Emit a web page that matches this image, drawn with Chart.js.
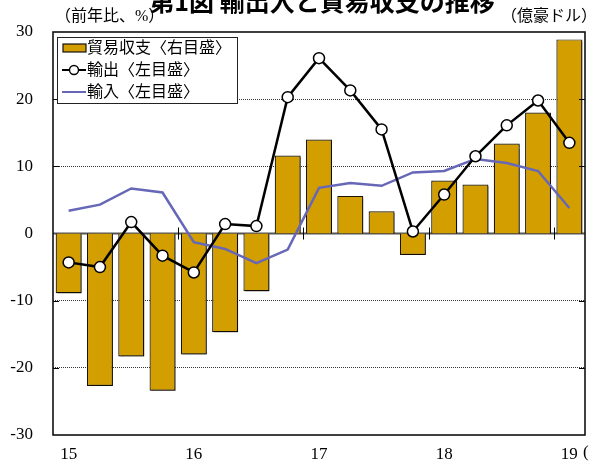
<!DOCTYPE html>
<html><head><meta charset="utf-8">
<script src="https://cdn.jsdelivr.net/npm/chart.js@4.4.1/dist/chart.umd.min.js"></script>
<style>html,body{margin:0;padding:0;background:#fff;}canvas{display:block;}</style>
</head><body>
<canvas id="c" width="592" height="461"></canvas>
<script>
const quarters = ['2015Q1','2015Q2','2015Q3','2015Q4','2016Q1','2016Q2','2016Q3','2016Q4','2017Q1','2017Q2','2017Q3','2017Q4','2018Q1','2018Q2','2018Q3','2018Q4','2019Q1'];
const xTickLabels = ['15','','','','16','','','','17','','','','18','','','','19'];
const tradeBalance = [-8.9,-22.7,-18.3,-23.4,-18.0,-14.7,-8.6,11.6,14.0,5.6,3.3,-3.2,7.9,7.3,13.4,18.0,28.9];
const exportsYoY = [-4.3,-5.0,1.7,-3.3,-5.8,1.4,1.1,20.3,26.1,21.3,15.5,0.3,5.8,11.5,16.1,19.8,13.5];
const importsYoY = [3.4,4.3,6.7,6.1,-1.3,-2.3,-4.4,-2.4,6.8,7.5,7.1,9.1,9.3,11.1,10.5,9.3,3.8];
const seriesNames = ['貿易収支〈右目盛〉','輸出〈左目盛〉','輸入〈左目盛〉'];
const yTicks = [-30,-20,-10,0,10,20,30];
const titleText = '第1図 輸出入と貿易収支の推移';
const leftUnit = '（前年比、%）';
const rightUnit = '（億豪ドル）';

const GOLD = '#D39E00', BLUE = '#6767B8';
const SERIF = '"Times New Roman","Liberation Serif",Tinos,"DejaVu Serif",serif';
const JP = '"Times New Roman","Liberation Serif","Noto Sans CJK JP",serif';

const decor = {
  id: 'decor',
  beforeDatasetsDraw(chart) {
    const {ctx, chartArea: a, scales: {y}} = chart;
    const y0 = y.getPixelForValue(0);
    ctx.save();
    ctx.strokeStyle = '#555'; ctx.lineWidth = 2;
    ctx.beginPath(); ctx.moveTo(a.left, y0); ctx.lineTo(a.right, y0); ctx.stroke();
    ctx.restore();
  },
  beforeDatasetDraw(chart, args) {
    if (args.index === 0) {
      const ctx = chart.ctx; ctx.save();
      ctx.shadowColor = 'rgba(0,0,0,0.45)'; ctx.shadowOffsetX = 1.5; ctx.shadowOffsetY = 1.5; ctx.shadowBlur = 1;
    }
  },
  afterDatasetDraw(chart, args) {
    if (args.index === 0) chart.ctx.restore();
  },
  afterDatasetsDraw(chart) {
    const {ctx, chartArea: a, scales: {x, y}} = chart;
    const y0 = y.getPixelForValue(0);
    ctx.save();
    ctx.strokeStyle = '#000'; ctx.lineWidth = 1;
    for (let i = 4; i < quarters.length; i += 4) {
      const px = Math.round((x.getPixelForValue(i - 1) + x.getPixelForValue(i)) / 2) + 0.5;
      ctx.beginPath(); ctx.moveTo(px, y0 - 6); ctx.lineTo(px, y0 + 6); ctx.stroke();
    }
    yTicks.forEach(v => {
      if (v === 0 || Math.abs(v) === 30) return;
      const py = Math.round(y.getPixelForValue(v)) + 0.5;
      ctx.beginPath(); ctx.moveTo(a.left, py); ctx.lineTo(a.left + 6, py); ctx.stroke();
      ctx.beginPath(); ctx.moveTo(a.right - 6, py); ctx.lineTo(a.right, py); ctx.stroke();
    });
    ctx.lineWidth = 1.6; ctx.strokeStyle = '#111';
    ctx.strokeRect(a.left, a.top, a.right - a.left, a.bottom - a.top);
    ctx.restore();
  },
  afterDraw(chart) {
    const {ctx, chartArea: a} = chart;
    ctx.save();
    ctx.fillStyle = '#000';
    ctx.font = 'bold 25px "Noto Sans CJK JP",sans-serif';
    ctx.textAlign = 'center'; ctx.textBaseline = 'alphabetic';
    ctx.fillText(titleText, 322, 11);
    ctx.font = '16px ' + JP;
    ctx.textBaseline = 'middle';
    ctx.textAlign = 'left'; ctx.fillText(leftUnit, 55, 17);
    ctx.textAlign = 'right'; ctx.fillText(rightUnit, 597, 17);
    ctx.font = '17px ' + SERIF; ctx.textAlign = 'left';
    ctx.fillText('(', 583, 453);
    const lx = 57, ly = 37, lw = 180, lh = 66;
    ctx.fillStyle = '#fff'; ctx.fillRect(lx, ly, lw, lh);
    ctx.strokeStyle = '#222'; ctx.lineWidth = 1;
    ctx.strokeRect(lx + 0.5, ly + 0.5, lw, lh);
    const rows = [48, 70, 92];
    ctx.fillStyle = GOLD; ctx.fillRect(63, rows[0] - 4, 23, 8);
    ctx.strokeStyle = '#111'; ctx.lineWidth = 1.2; ctx.strokeRect(63, rows[0] - 4, 23, 8);
    ctx.strokeStyle = '#000'; ctx.lineWidth = 2;
    ctx.beginPath(); ctx.moveTo(62, rows[1]); ctx.lineTo(86, rows[1]); ctx.stroke();
    ctx.beginPath(); ctx.arc(74, rows[1], 4.5, 0, Math.PI * 2);
    ctx.fillStyle = '#fff'; ctx.fill(); ctx.lineWidth = 1.4; ctx.stroke();
    ctx.strokeStyle = BLUE; ctx.lineWidth = 2;
    ctx.beginPath(); ctx.moveTo(62, rows[2]); ctx.lineTo(86, rows[2]); ctx.stroke();
    ctx.fillStyle = '#000'; ctx.font = '16px ' + JP; ctx.textAlign = 'left'; ctx.textBaseline = 'middle';
    seriesNames.forEach((n, i) => ctx.fillText(n, 87, rows[i] + 1));
    ctx.restore();
  }
};

new Chart(document.getElementById('c'), {
  data: {
    labels: quarters,
    datasets: [
      { type: 'bar', label: seriesNames[0], data: tradeBalance, yAxisID: 'y2',
        backgroundColor: GOLD, borderColor: '#1a1400', borderWidth: 1.2,
        barPercentage: 0.83, categoryPercentage: 1.0, order: 3 },
      { type: 'line', label: seriesNames[2], data: importsYoY, yAxisID: 'y',
        borderColor: BLUE, borderWidth: 2.5, pointRadius: 0, tension: 0, order: 2 },
      { type: 'line', label: seriesNames[1], data: exportsYoY, yAxisID: 'y',
        borderColor: '#000', borderWidth: 2.5, pointRadius: 5.5, pointBorderWidth: 1.5,
        pointBackgroundColor: '#fff', pointBorderColor: '#000', tension: 0, order: 1 }
    ]
  },
  options: {
    responsive: false, animation: false, devicePixelRatio: 1,
    layout: { padding: { top: 32, right: 4, left: 0, bottom: 0 } },
    plugins: { legend: { display: false }, tooltip: { enabled: false }, title: { display: false } },
    scales: {
      x: {
        offset: true,
        grid: { display: false, drawTicks: false },
        border: { display: false },
        ticks: { autoSkip: false, maxRotation: 0, padding: 9, color: '#000',
          font: { family: SERIF, size: 17 },
          callback: (v, i) => xTickLabels[i] },
        afterFit: s => { s.height = 26; }
      },
      y: {
        position: 'left', min: -30, max: 30,
        afterBuildTicks: s => { s.ticks = yTicks.map(v => ({ value: v })); },
        grid: { drawTicks: true, tickLength: 20, tickColor: 'rgba(0,0,0,0)', lineWidth: 1,
          color: c => (c.tick.value === 0 || Math.abs(c.tick.value) === 30) ? 'rgba(0,0,0,0)' : '#333' },
        border: { display: false, dash: [1, 1] },
        ticks: { padding: 0, color: '#000', font: { family: SERIF, size: 17 } },
        afterFit: s => { s.width = 53; }
      },
      y2: {
        position: 'right', min: -30, max: 30, display: false,
        grid: { display: false }
      }
    }
  },
  plugins: [decor]
});
</script>
</body></html>
